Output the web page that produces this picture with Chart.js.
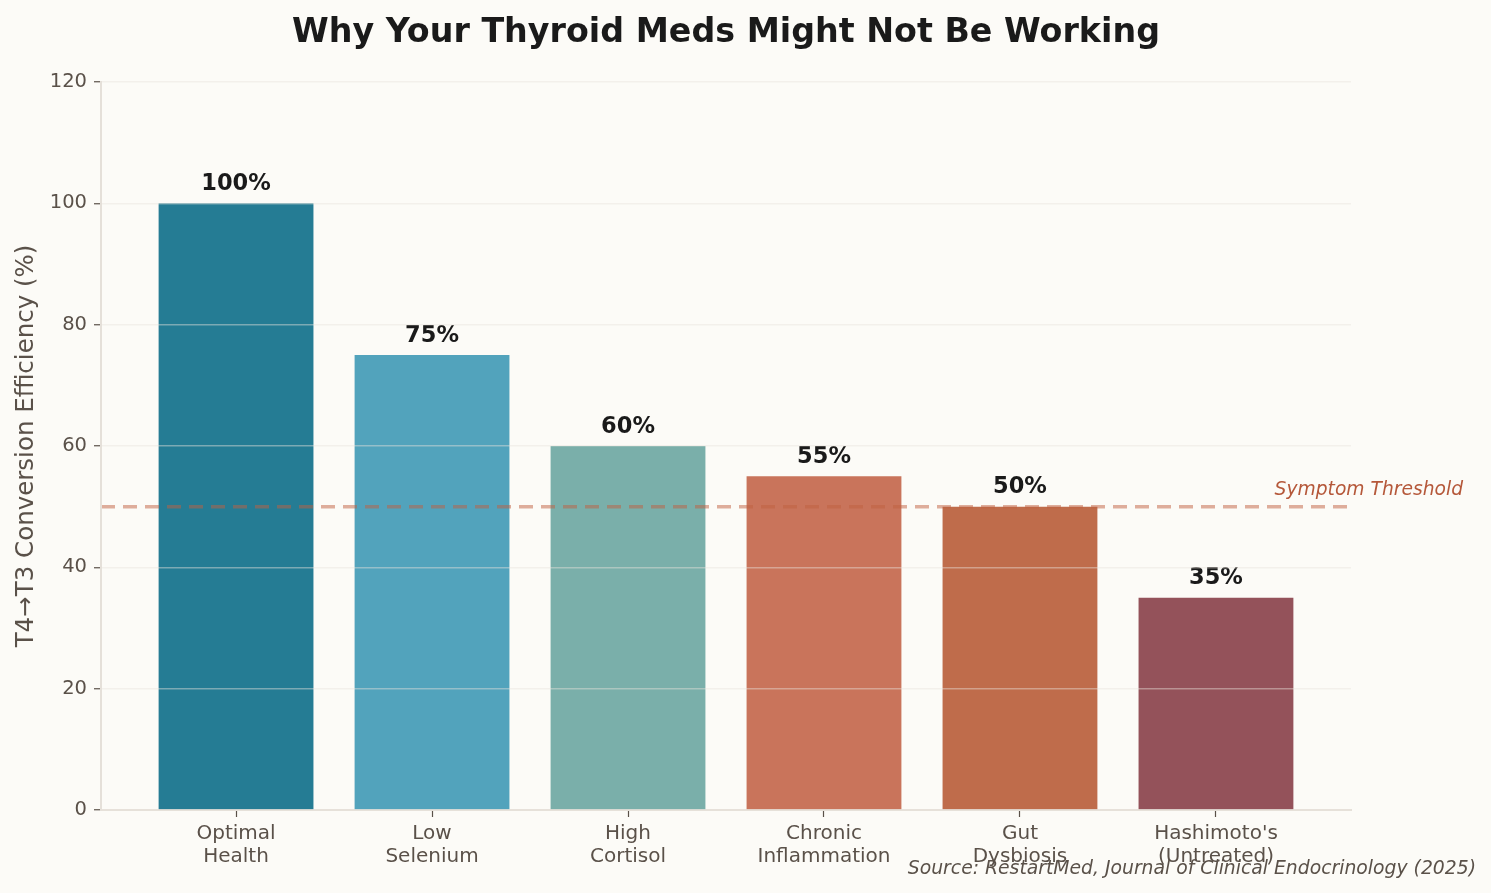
<!DOCTYPE html>
<html>
<head>
<meta charset="utf-8">
<script src="https://cdn.jsdelivr.net/npm/chart.js@4.4.1/dist/chart.umd.min.js"></script>
<style>
  html, body { margin: 0; padding: 0; background: #fcfbf7; }
  #wrap { width: 1491px; height: 893px; position: relative; }
</style>
</head>
<body>
<div id="wrap"><canvas id="myChart"></canvas></div>
<script>
// categories, values and colours
var categories = [
  ["Optimal", "Health"],
  ["Low", "Selenium"],
  ["High", "Cortisol"],
  ["Chronic", "Inflammation"],
  ["Gut", "Dysbiosis"],
  ["Hashimoto's", "(Untreated)"]
];
var efficiency = [100, 75, 60, 55, 50, 35];
var barColors = ["#257c94", "#52a3bc", "#7aafaa", "#c9745b", "#bf6c4b", "#94525a"];
var yTicks = [0, 20, 40, 60, 80, 100, 120];
var threshold = 50;
var thresholdLabel = "Symptom Threshold";
var sourceText = "Source: RestartMed, Journal of Clinical Endocrinology (2025)";

var textGray = "#5a5149";
var axisLine = "#e5e0d9";

// threshold line, value labels and source note
var extras = {
  id: "extras",
  afterDatasetsDraw: function (chart) {
    var c = chart.ctx, area = chart.chartArea;
    var xs = chart.scales.x, ys = chart.scales.y;
    c.save();
    var ty = ys.getPixelForValue(threshold);
    c.strokeStyle = "rgba(192,96,63,0.5)";
    c.lineWidth = 3.5;
    c.setLineDash([14, 8]);
    c.beginPath();
    c.moveTo(area.left, ty);
    c.lineTo(area.right, ty);
    c.stroke();
    c.setLineDash([]);

    c.font = "italic 18.7px 'DejaVu Sans'";
    c.fillStyle = "#b5583a";
    c.textAlign = "right";
    c.textBaseline = "middle";
    c.fillText(thresholdLabel, area.right + 112, ty - 17);

    c.font = "bold 22.5px 'DejaVu Sans'";
    c.fillStyle = "#1a1a1a";
    c.textAlign = "center";
    c.textBaseline = "bottom";
    efficiency.forEach(function (v, i) {
      c.fillText(v + "%", xs.getPixelForValue(i), ys.getPixelForValue(v) - 8);
    });
    c.restore();
  },
  afterDraw: function (chart) {
    var c = chart.ctx;
    c.save();
    c.font = "italic 18.8px 'DejaVu Sans'";
    c.fillStyle = textGray;
    c.textAlign = "right";
    c.textBaseline = "middle";
    c.fillText(sourceText, chart.width - 15, chart.height - 24);
    c.restore();
  }
};

var ctx = document.getElementById("myChart");
var myChart = new Chart(ctx, {
  type: "bar",
  plugins: [extras],
  data: {
    datasets: [{
      data: efficiency.map(function (v, i) { return { x: i, y: v }; }),
      backgroundColor: barColors,
      borderWidth: 0,
      barPercentage: 0.79,
      categoryPercentage: 1
    }]
  },
  options: {
    responsive: true,
    maintainAspectRatio: false,
    animation: false,
    layout: { padding: { left: 0, right: 140, top: 0, bottom: 0 } },
    plugins: {
      legend: { display: false },
      tooltip: { enabled: false },
      title: {
        display: true,
        text: "Why Your Thyroid Meds Might Not Be Working",
        fullSize: false,
        color: "#1a1a1a",
        font: { family: "'DejaVu Sans'", size: 33.3, weight: "bold", lineHeight: 1.2 },
        padding: { top: 13, bottom: 29 }
      }
    },
    scales: {
      x: {
        type: "linear",
        offset: false,
        min: -0.689,
        max: 5.689,
        afterBuildTicks: function (axis) {
          axis.ticks = categories.map(function (c, i) { return { value: i }; });
        },
        afterFit: function (axis) { axis.height = 83; },
        grid: {
          offset: false,
          drawOnChartArea: false,
          color: "rgba(0,0,0,0)",
          tickColor: textGray,
          tickLength: 7,
          tickWidth: 1.2
        },
        border: { color: axisLine, width: 2 },
        ticks: {
          autoSkip: false,
          maxRotation: 0,
          padding: 5,
          color: textGray,
          font: { family: "'DejaVu Sans'", size: 20, lineHeight: 1.17 },
          callback: function (value) { return categories[value]; }
        }
      },
      y: {
        min: 0,
        max: 120,
        afterBuildTicks: function (axis) {
          axis.ticks = yTicks.map(function (v) { return { value: v }; });
        },
        afterFit: function (axis) { axis.width = 101; },
        grid: {
          z: 1,
          color: "rgba(232,227,220,0.45)",
          lineWidth: 1.5,
          tickColor: textGray,
          tickLength: 7,
          tickWidth: 1.2
        },
        border: { z: 1, color: axisLine, width: 2 },
        ticks: {
          padding: 7,
          color: textGray,
          font: { family: "'DejaVu Sans'", size: 19.5 }
        },
        title: {
          display: true,
          text: "T4→T3 Conversion Efficiency (%)",
          color: textGray,
          padding: { top: 12, bottom: 0 },
          font: { family: "'DejaVu Sans'", size: 24.5 }
        }
      }
    }
  }
});
</script>
</body>
</html>
